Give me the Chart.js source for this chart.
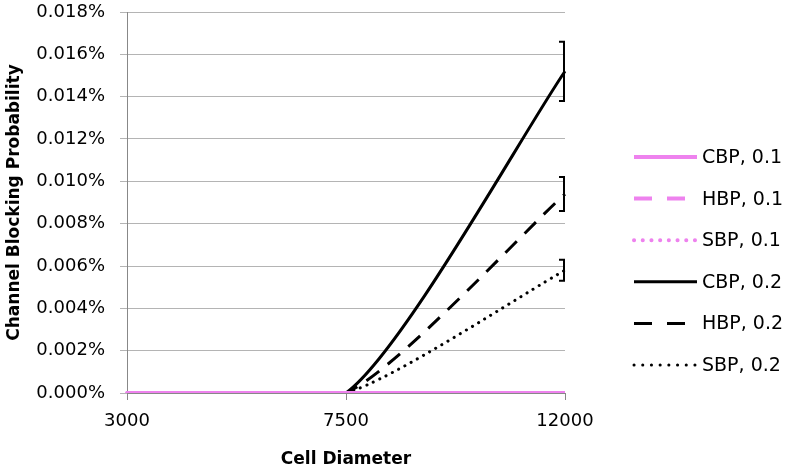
<!DOCTYPE html>
<html>
<head>
<meta charset="utf-8">
<script src="https://cdn.jsdelivr.net/npm/chart.js@4"></script>
<style>
  html, body { margin: 0; padding: 0; background: #fff; }
  #wrap { width: 785px; height: 470px; }
</style>
</head>
<body>
<div id="wrap"><canvas id="blockChart"></canvas></div>
<script>
// cell diameters on the x axis
const diameters = ['3000', '7500', '12000'];

// blocking probabilities (in %)
const cbp01 = [0, 0, 0];
const hbp01 = [0, 0, 0];
const sbp01 = [0, 0, 0];
const cbp02 = [0, 0, 0.0152];
const hbp02 = [0, 0, 0.0094];
const sbp02 = [0, 0, 0.0058];

// error bar half-widths (only the last point has one)
const cbp02Err = [0, 0, 0.0014];
const hbp02Err = [0, 0, 0.0008];
const sbp02Err = [0, 0, 0.0005];

const yTicks = [0, 0.002, 0.004, 0.006, 0.008, 0.010, 0.012, 0.014, 0.016, 0.018];

const pink = '#EE82EE';
const fontName = "'DejaVu Sans', sans-serif";

function line(label, data, color, width, dash, legendDash, cap, order, errors) {
    return {
        label: label,
        data: data,
        borderColor: color,
        backgroundColor: color,
        borderWidth: width,
        borderDash: dash,
        legendDash: legendDash,
        borderCapStyle: cap,
        pointRadius: 0,
        tension: 0.2,
        fill: false,
        order: order,
        errors: errors
    };
}

const errorBars = {
    id: 'errorBars',
    afterDatasetsDraw(chart) {
        const ctx = chart.ctx;
        const yScale = chart.scales.y;
        const area = chart.chartArea;
        ctx.save();
        ctx.strokeStyle = '#000';
        ctx.lineWidth = 2;
        ctx.setLineDash([]);
        chart.data.datasets.forEach((ds, i) => {
            if (!ds.errors) return;
            const meta = chart.getDatasetMeta(i);
            ds.errors.forEach((e, j) => {
                if (!e) return;
                const x = Math.min(meta.data[j].x, area.right - 1);
                const yHi = yScale.getPixelForValue(ds.data[j] + e);
                const yLo = yScale.getPixelForValue(ds.data[j] - e);
                ctx.beginPath();
                ctx.moveTo(x - 5, yHi);
                ctx.lineTo(x, yHi);
                ctx.lineTo(x, yLo);
                ctx.lineTo(x - 5, yLo);
                ctx.stroke();
            });
        });
        ctx.restore();
    }
};

// legend on the right: line swatch + label for each series
const sideLegend = {
    id: 'sideLegend',
    afterDraw(chart) {
        const ctx = chart.ctx;
        const x0 = chart.chartArea.right + 67;
        ctx.save();
        chart.data.datasets.forEach((ds, i) => {
            const y = 157 + i * 41.6;
            ctx.strokeStyle = ds.borderColor;
            ctx.lineWidth = ds.borderWidth;
            ctx.lineCap = ds.borderCapStyle;
            ctx.setLineDash(ds.legendDash);
            ctx.beginPath();
            ctx.moveTo(x0 + 2, y);
            ctx.lineTo(x0 + 65, y);
            ctx.stroke();
            ctx.setLineDash([]);
            ctx.fillStyle = '#000';
            ctx.font = '19px ' + fontName;
            ctx.textAlign = 'left';
            ctx.textBaseline = 'middle';
            ctx.fillText(ds.label, x0 + 70, y + 1);
        });
        ctx.restore();
    }
};

const ctx = document.getElementById('blockChart').getContext('2d');

new Chart(ctx, {
    type: 'line',
    data: {
        labels: diameters,
        datasets: [
            line('CBP, 0.1', cbp01, pink, 4, [], [], 'butt', 1),
            line('HBP, 0.1', hbp01, pink, 4, [16, 11], [18, 15], 'butt', 1),
            line('SBP, 0.1', sbp01, pink, 4, [0.1, 7], [0.1, 8.6], 'round', 1),
            line('CBP, 0.2', cbp02, '#000', 3, [], [], 'butt', 2, cbp02Err),
            line('HBP, 0.2', hbp02, '#000', 3, [16, 11], [18, 15], 'butt', 2, hbp02Err),
            line('SBP, 0.2', sbp02, '#000', 3, [0.1, 7], [0.1, 8.6], 'round', 2, sbp02Err)
        ]
    },
    options: {
        responsive: true,
        maintainAspectRatio: false,
        animation: false,
        layout: { padding: { left: 0, right: 220, top: 12, bottom: 0 } },
        plugins: {
            tooltip: { enabled: false },
            legend: { display: false }
        },
        scales: {
            x: {
                type: 'category',
                offset: false,
                grid: { drawOnChartArea: false, drawTicks: true, tickLength: 7, color: '#888' },
                border: { color: '#888' },
                ticks: { color: '#000', padding: 11, maxRotation: 0, font: { family: fontName, size: 18 } },
                title: {
                    display: true,
                    text: 'Cell Diameter',
                    color: '#000',
                    padding: { top: 0, bottom: 0 },
                    font: { family: fontName, size: 17, weight: 'bold' }
                },
                afterFit: (scale) => { scale.height = 77; }
            },
            y: {
                min: 0,
                max: 0.018,
                afterBuildTicks: (scale) => { scale.ticks = yTicks.map(v => ({ value: v })); },
                grid: { color: '#B4B4B4', tickLength: 7 },
                border: { color: '#888' },
                ticks: {
                    color: '#000',
                    padding: 15,
                    font: { family: fontName, size: 18 },
                    callback: (value) => value.toFixed(3) + '%'
                },
                title: {
                    display: true,
                    text: 'Channel Blocking Probability',
                    color: '#000',
                    padding: { top: 4, bottom: 0 },
                    font: { family: fontName, size: 17, weight: 'bold' }
                },
                afterFit: (scale) => {
                    scale.width = 127;
                    scale.paddingTop = 0;
                    scale.paddingBottom = 0;
                }
            }
        }
    },
    plugins: [errorBars, sideLegend]
});
</script>
</body>
</html>
